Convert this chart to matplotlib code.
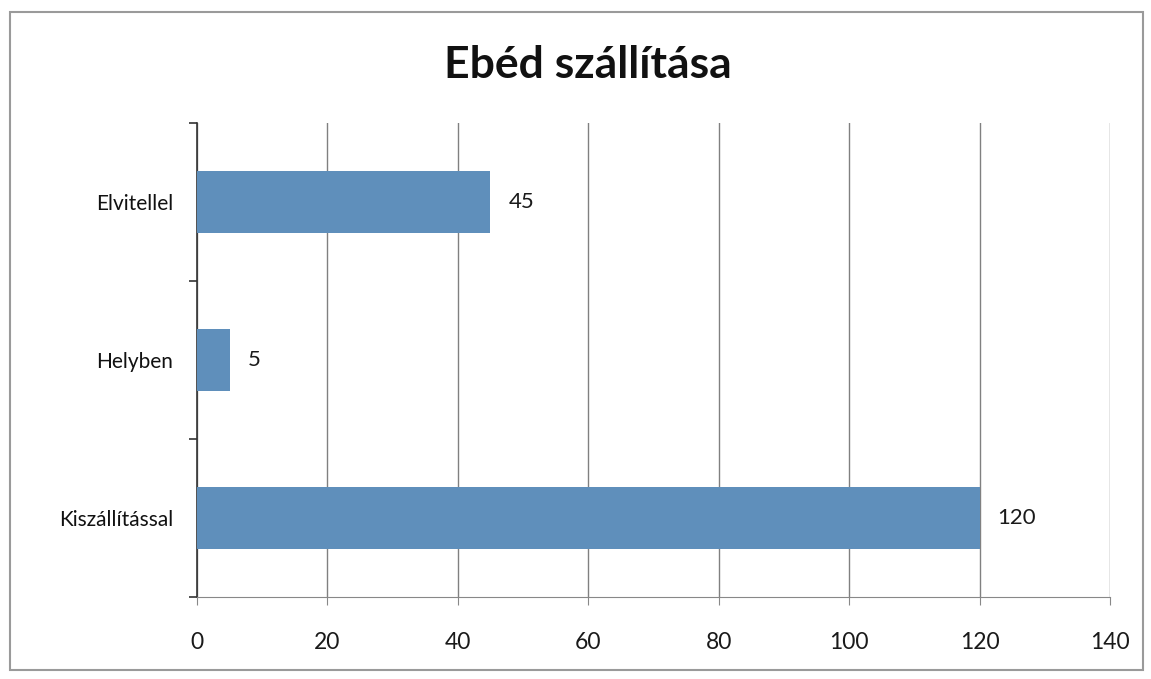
import matplotlib
matplotlib.use("Agg")
import matplotlib.pyplot as plt
from matplotlib.patches import Rectangle

categories = ["Elvitellel", "Helyben", "Kiszállítással"]
values = [45, 5, 120]
xticks = [0, 20, 40, 60, 80, 100, 120, 140]
title = "Ebéd szállítása"

plt.rcParams['font.family'] = ['Lato', 'DejaVu Sans']

fig = plt.figure(figsize=(11.51, 6.79), dpi=100)
fig.patches.append(Rectangle((10/1151, 1-670/679), (1143-10)/1151, (670-12)/679,
                             transform=fig.transFigure, fill=False,
                             edgecolor='#9a9a9a', linewidth=1.5))
ax = fig.add_axes([197/1151, 1-597/679, 913/1151, 474/679])

ypos = list(range(len(categories)))
ax.barh(ypos, values, height=0.39, color='#5f8fbb', zorder=3)
for y, v in zip(ypos, values):
    ax.annotate(str(v), (v, y), xytext=(13, 0), textcoords='offset points',
                va='center', ha='left', fontsize=16, color='#1a1a1a')

ax.set_xlim(0, 140)
ax.set_ylim(len(categories) - 0.5, -0.5)
ax.set_xticks(xticks)
ax.set_xticklabels([str(t) for t in xticks], fontsize=16.5, color='#1a1a1a')
ax.set_yticks(ypos)
ax.set_yticklabels(categories, fontsize=15, color='#111111')
ax.set_yticks([-0.5, 0.5, 1.5, 2.5], minor=True)
ax.tick_params(axis='y', which='major', length=0, pad=17)
ax.tick_params(axis='y', which='minor', length=6, color='#333333', width=1.2)
ax.tick_params(axis='x', length=6, color='#888888', pad=19)
ax.grid(axis='x', color='#808080', linewidth=1, zorder=0)
for s in ['top', 'right']:
    ax.spines[s].set_visible(False)
ax.spines['left'].set_color('#333333')
ax.spines['left'].set_linewidth(1.2)
ax.spines['bottom'].set_color('#888888')

fig.text(588/1151, 1-65/679, title, ha='center', va='center', fontsize=32,
         fontweight='bold', color='#111111')

fig.savefig("out.png", dpi=100)
